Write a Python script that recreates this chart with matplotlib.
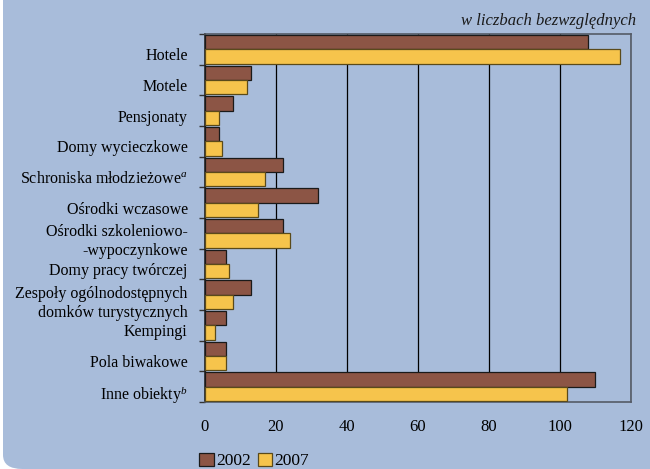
import matplotlib
matplotlib.use("Agg")
import matplotlib.pyplot as plt
import numpy as np
from matplotlib.patches import FancyBboxPatch
from matplotlib.transforms import ScaledTranslation

plt.rcParams["font.family"] = ["Liberation Serif", "DejaVu Serif"]
plt.rcParams["mathtext.fontset"] = "custom"
plt.rcParams["mathtext.rm"] = "Liberation Serif"
plt.rcParams["mathtext.it"] = "Liberation Serif:italic"

categories = [
    "Hotele",
    "Motele",
    "Pensjonaty",
    "Domy wycieczkowe",
    "Schroniska młodzieżowe$^{\\mathit{a}}$",
    "Ośrodki wczasowe",
    "Ośrodki szkoleniowo-\n-wypoczynkowe",
    "Domy pracy twórczej",
    "Zespoły ogólnodostępnych\ndomków turystycznych",
    "Kempingi",
    "Pola biwakowe",
    "Inne obiekty$^{\\mathit{b}}$",
]
values_2002 = [108, 13, 8, 4, 22, 32, 22, 6, 13, 6, 6, 110]
values_2007 = [117, 12, 4, 5, 17, 15, 24, 7, 8, 3, 6, 102]
x_ticks = [0, 20, 40, 60, 80, 100, 120]

BG = "#a8bcda"
BROWN = "#8c5545"
YELLOW = "#f6c44c"

fig = plt.figure(figsize=(6.5, 4.69), dpi=100, facecolor="white")
W, H = 650, 469
# light-blue rounded panel; only its bottom-left corner is visible
panel = FancyBboxPatch(
    (3 / W, 0), 2.0, 2.0,
    boxstyle="round,pad=0,rounding_size=0.03",
    transform=fig.transFigure, facecolor=BG, edgecolor="none", zorder=-5,
)
fig.patches.append(panel)

ax = fig.add_axes([204.5 / W, 1 - 402 / H, (631 - 204.5) / W, (402 - 34) / H])
ax.set_facecolor("none")

y = np.arange(len(categories))
h = 0.47
ax.barh(y - h / 2, values_2002, height=h, color=BROWN, edgecolor="#1a1a1a",
        linewidth=0.9, label="2002", zorder=3)
ax.barh(y + h / 2, values_2007, height=h, color=YELLOW, edgecolor="#5a4a1a",
        linewidth=0.9, label="2007", zorder=3)

ax.set_xlim(0, 120)
ax.set_ylim(len(categories) - 0.5, -0.5)
ax.set_xticks(x_ticks)
ax.set_xticklabels([str(v) for v in x_ticks], fontsize=12)
ax.tick_params(axis="x", length=0, pad=12)
ax.xaxis.grid(True, color="black", linewidth=0.9, zorder=1)
ax.set_axisbelow(True)

ax.set_yticks(y)
ax.set_yticklabels(categories, fontsize=11.5, linespacing=1.25)
ax.tick_params(axis="y", which="major", length=0, pad=12)
ax.set_yticks(np.arange(len(categories) + 1) - 0.5, minor=True)
ax.tick_params(axis="y", which="minor", length=4, width=1, color="#333333")
offset = ScaledTranslation(0, -5 / 100, fig.dpi_scale_trans)
for lbl in ax.get_yticklabels():
    lbl.set_transform(lbl.get_transform() + offset)

for side in ["top", "right", "bottom"]:
    ax.spines[side].set_color("#555b66")
    ax.spines[side].set_linewidth(1.2)
ax.spines["left"].set_color("#222222")
ax.spines["left"].set_linewidth(1.2)

fig.text(636 / W, 1 - 21 / H, "w liczbach bezwzględnych", ha="right", va="center",
         fontsize=12, style="italic", color="#1a1a1a")

fig.legend(loc="center", bbox_to_anchor=(254 / W, 1 - 461 / H), ncol=2, frameon=False,
           fontsize=12.5, handlelength=0.85, handleheight=0.85, handletextpad=0.1,
           columnspacing=0.4, borderpad=0)

fig.savefig("out.png", dpi=100, facecolor=fig.get_facecolor())
